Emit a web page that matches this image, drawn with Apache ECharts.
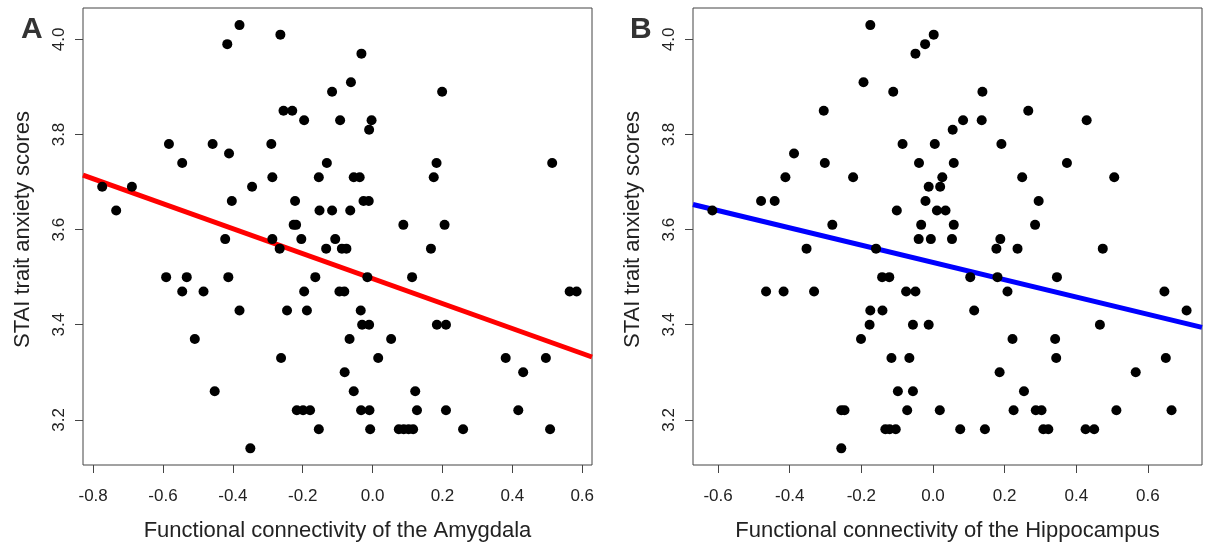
<!DOCTYPE html>
<html><head><meta charset="utf-8">
<script src="https://cdn.jsdelivr.net/npm/echarts@6/dist/echarts.min.js"></script>
<style>html,body{margin:0;padding:0;background:#fff}#c{width:1206px;height:542px}</style>
</head><body><div id="c"></div>
<script>
// Panel A: Amygdala
const amygdalaX = [-0.381,-0.416,-0.264,-0.116,-0.255,-0.230,-0.196,-0.093,-0.583,-0.458,
  -0.411,-0.290,-0.545,-0.131,-0.287,-0.154,-0.774,-0.689,-0.345,-0.734,
  -0.403,-0.222,-0.152,-0.116,-0.226,-0.219,-0.422,-0.287,-0.204,-0.107,
  -0.266,-0.133,-0.088,-0.075,-0.032,-0.062,0.199,-0.003,-0.010,0.183,
  0.514,-0.054,-0.037,0.175,-0.026,-0.011,-0.064,0.088,0.206,-0.591,
  -0.532,-0.413,-0.164,-0.545,-0.484,-0.196,-0.381,-0.245,-0.188,-0.509,
  -0.262,-0.452,-0.217,-0.199,-0.179,-0.154,-0.350,0.167,-0.015,0.113,
  -0.095,-0.081,0.564,0.584,-0.034,-0.030,-0.010,0.184,0.210,-0.066,
  0.053,0.016,0.381,0.496,-0.080,0.431,-0.054,0.122,-0.033,-0.009,
  0.127,0.210,0.417,-0.007,0.075,0.089,0.103,0.116,0.259,0.508];
const amygdalaY = [4.03,3.99,4.01,3.89,3.85,3.85,3.83,3.83,3.78,3.78,
  3.76,3.78,3.74,3.74,3.71,3.71,3.69,3.69,3.69,3.64,
  3.66,3.66,3.64,3.64,3.61,3.61,3.58,3.58,3.58,3.58,
  3.56,3.56,3.56,3.56,3.97,3.91,3.89,3.83,3.81,3.74,
  3.74,3.71,3.71,3.71,3.66,3.66,3.64,3.61,3.61,3.50,
  3.50,3.50,3.50,3.47,3.47,3.47,3.43,3.43,3.43,3.37,
  3.33,3.26,3.22,3.22,3.22,3.18,3.14,3.56,3.50,3.50,
  3.47,3.47,3.47,3.47,3.43,3.40,3.40,3.40,3.40,3.37,
  3.37,3.33,3.33,3.33,3.30,3.30,3.26,3.26,3.22,3.22,
  3.22,3.22,3.22,3.18,3.18,3.18,3.18,3.18,3.18,3.18];
// Panel B: Hippocampus
const hippocampusX = [-0.175,0.002,-0.022,-0.049,-0.194,-0.111,-0.305,0.055,-0.085,0.005,
  -0.388,-0.302,-0.039,-0.412,-0.223,0.026,-0.012,0.020,-0.480,-0.442,
  -0.021,-0.616,-0.101,0.011,0.035,-0.281,-0.033,0.058,-0.040,-0.006,
  0.053,0.188,0.138,0.266,0.084,0.136,0.429,0.191,0.058,0.374,
  0.249,0.506,0.295,0.285,-0.353,-0.159,-0.142,-0.122,-0.466,-0.417,
  -0.332,-0.075,-0.049,-0.175,-0.141,-0.177,-0.056,-0.012,-0.201,-0.116,
  -0.066,-0.098,-0.056,-0.256,-0.247,-0.072,0.019,-0.133,-0.121,-0.104,
  -0.256,0.177,0.236,0.474,0.104,0.180,0.346,0.208,0.646,0.115,
  0.708,0.466,0.222,0.341,0.344,0.650,0.186,0.566,0.254,0.225,
  0.287,0.303,0.512,0.666,0.076,0.145,0.308,0.322,0.426,0.450];
const hippocampusY = [4.03,4.01,3.99,3.97,3.91,3.89,3.85,3.81,3.78,3.78,
  3.76,3.74,3.74,3.71,3.71,3.71,3.69,3.69,3.66,3.66,
  3.66,3.64,3.64,3.64,3.64,3.61,3.61,3.61,3.58,3.58,
  3.58,3.58,3.89,3.85,3.83,3.83,3.83,3.78,3.74,3.74,
  3.71,3.71,3.66,3.61,3.56,3.56,3.50,3.50,3.47,3.47,
  3.47,3.47,3.47,3.43,3.43,3.40,3.40,3.40,3.37,3.33,
  3.33,3.26,3.26,3.22,3.22,3.22,3.22,3.18,3.18,3.18,
  3.14,3.56,3.56,3.56,3.50,3.50,3.50,3.47,3.47,3.43,
  3.43,3.40,3.37,3.37,3.33,3.33,3.30,3.30,3.26,3.22,
  3.22,3.22,3.22,3.22,3.18,3.18,3.18,3.18,3.18,3.18];
// regression lines: [intercept, slope]
const fitA = [3.497, -0.2625];
const fitB = [3.531, -0.1817];
const xTicksA = [-0.8,-0.6,-0.4,-0.2,0.0,0.2,0.4,0.6];
const xTicksB = [-0.6,-0.4,-0.2,0.0,0.2,0.4,0.6];
const yTicks = [3.2,3.4,3.6,3.8,4.0];
const panelLabels = ['A','B'];
const xTitles = ['Functional connectivity of the Amygdala','Functional connectivity of the Hippocampus'];
const yTitle = 'STAI trait anxiety scores';

const FONT = '"Liberation Sans", Arial, sans-serif';
const xRanges = [[-0.829, 0.628], [-0.670, 0.751]];
const yRange = [3.105, 4.066];
const grids = [
  {left: 83, top: 8, width: 509, height: 457},
  {left: 693, top: 8, width: 509, height: 457}
];
const xTickSets = [xTicksA, xTicksB];

function zip(xs, ys){ return xs.map((x,i)=>[x, ys[i]]); }
function fitLine(fit, r){ return [[r[0], fit[0]+fit[1]*r[0]], [r[1], fit[0]+fit[1]*r[1]]]; }

const chart = echarts.init(document.getElementById('c'), null, {renderer:'canvas'});
const option = {
  animation: false,
  backgroundColor: '#fff',
  textStyle: {fontFamily: FONT},
  grid: grids.map(g => Object.assign({show: true, borderColor: '#444', borderWidth: 1, backgroundColor: 'transparent',
    containLabel: false, outerBoundsMode: 'none'}, g)),
  xAxis: [0,1].map(i => ({
    gridIndex: i, type: 'value', min: xRanges[i][0], max: xRanges[i][1], position: 'bottom',
    axisLine: {show: false, onZero: false},
    splitLine: {show: false},
    axisTick: {show: true, customValues: xTickSets[i], length: 8, lineStyle: {color: '#444', width: 1}},
    axisLabel: {customValues: xTickSets[i], formatter: v => v.toFixed(1), fontSize: 17, color: '#222', margin: 23, fontFamily: FONT},
    name: xTitles[i], nameLocation: 'middle', nameGap: 55,
    nameTextStyle: {fontSize: 22, color: '#222', fontFamily: FONT}
  })),
  yAxis: [0,1].map(i => ({
    gridIndex: i, type: 'value', min: yRange[0], max: yRange[1], position: 'left',
    axisLine: {show: false, onZero: false},
    splitLine: {show: false},
    axisTick: {show: true, customValues: yTicks, length: 8, lineStyle: {color: '#444', width: 1}},
    axisLabel: {customValues: yTicks, formatter: v => v.toFixed(1), fontSize: 17, color: '#222', margin: 15, rotate: 90, fontFamily: FONT},
    name: yTitle, nameLocation: 'middle', nameGap: 49, nameRotate: 90,
    nameTextStyle: {fontSize: 22, color: '#222', fontFamily: FONT, padding: [0, 0, 0, 14]}
  })),
  graphic: [
    {type: 'text', left: 21, top: 15, style: {text: panelLabels[0], font: 'bold 30px ' + FONT, fill: '#333'}},
    {type: 'text', left: 630, top: 15, style: {text: panelLabels[1], font: 'bold 30px ' + FONT, fill: '#333'}}
  ],
  series: [
    {type: 'line', xAxisIndex: 0, yAxisIndex: 0, data: fitLine(fitA, xRanges[0]), symbol: 'none', clip: true,
     lineStyle: {color: '#ff0000', width: 5}, z: 2, silent: true},
    {type: 'scatter', xAxisIndex: 0, yAxisIndex: 0, data: zip(amygdalaX, amygdalaY), symbol: 'circle', symbolSize: 10,
     itemStyle: {color: '#000', opacity: 1}, z: 3},
    {type: 'line', xAxisIndex: 1, yAxisIndex: 1, data: fitLine(fitB, xRanges[1]), symbol: 'none', clip: true,
     lineStyle: {color: '#0000ff', width: 5}, z: 2, silent: true},
    {type: 'scatter', xAxisIndex: 1, yAxisIndex: 1, data: zip(hippocampusX, hippocampusY), symbol: 'circle', symbolSize: 10,
     itemStyle: {color: '#000', opacity: 1}, z: 3}
  ]
};
chart.setOption(option);
</script></body></html>
